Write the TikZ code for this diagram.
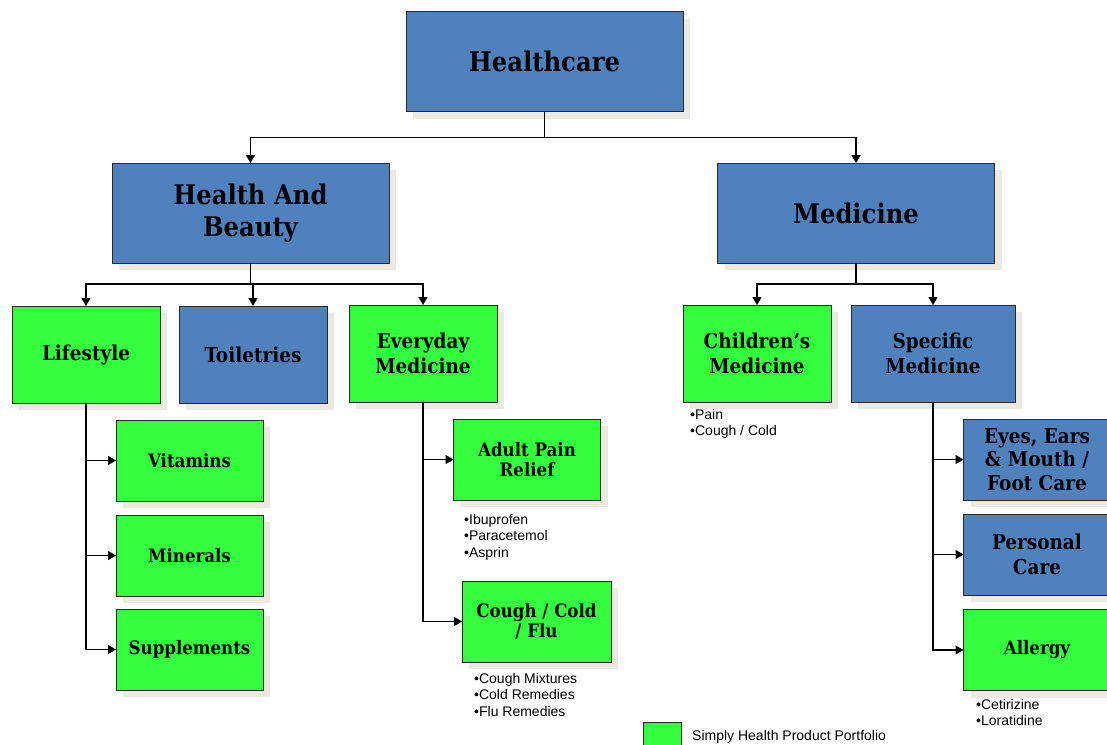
\documentclass[tikz,border=0pt]{standalone}
\usepackage{fontspec}
\usetikzlibrary{arrows.meta,positioning,shadows}
\newfontfamily\boxfont{DejaVu Serif Condensed}
\newfontfamily\notefont{Liberation Sans}
\definecolor{catblue}{HTML}{4F81BD}
\definecolor{catgreen}{HTML}{33FF3F}
\definecolor{shadebeige}{HTML}{ECE9DF}
\definecolor{boxline}{HTML}{2A2A2A}

\begin{document}
\begin{tikzpicture}[x=1pt, y=-1pt, >={Triangle[length=8pt,width=9pt]},
  box/.style={draw=boxline, line width=1pt, inner sep=0pt, outer sep=0pt, align=center,
    font=\boxfont\bfseries, drop shadow={shadow xshift=7pt, shadow yshift=-7pt, fill=shadebeige, opacity=1}},
  bluebox/.style={box, fill=catblue},
  greenbox/.style={box, fill=catgreen},
  big/.style={minimum width=277pt, minimum height=100pt, font=\boxfont\bfseries\fontsize{27}{32}\selectfont},
  mid/.style={minimum width=148pt, minimum height=97pt, font=\boxfont\bfseries\fontsize{20.5}{25}\selectfont},
  small/.style={minimum width=147pt, minimum height=81pt, font=\boxfont\bfseries\fontsize{18.5}{20.5}\selectfont},
  notes/.style={anchor=north west, inner sep=0pt, align=left, font=\notefont\fontsize{14}{16.5}\selectfont},
  link/.style={->, line width=1.3pt}]
  \useasboundingbox (0,0) rectangle (1107,744);

  \node[bluebox, big] (hc) at (544.5,61.5) {Healthcare};
  \node[bluebox, big] (hb) at (250.5,213) {Health And\\Beauty};
  \node[bluebox, big] (med) at (856,213) {Medicine};

  \node[greenbox, mid] (life) at (86,354.5) {Lifestyle};
  \node[bluebox, mid] (toil) at (253,354.5) {Toiletries};
  \node[greenbox, mid] (every) at (423,353.5) {Everyday\\Medicine};
  \node[greenbox, mid] (child) at (757,353.5) {Children’s\\Medicine};
  \node[bluebox, mid, minimum width=164pt] (spec) at (933,353.5) {Specific\\Medicine};

  \node[greenbox, small] (vit) at (189.5,460.5) {Vitamins};
  \node[greenbox, small] (mins) at (189.5,555.5) {Minerals};
  \node[greenbox, small] (supp) at (189.5,649.5) {Supplements};
  \node[greenbox, small] (adult) at (527,459.5) {Adult Pain\\Relief};
  \node[greenbox, small, minimum width=149pt] (cough) at (536.5,621.5) {Cough / Cold\\/ Flu};
  \node[bluebox, small, font=\boxfont\bfseries\fontsize{20.5}{23.5}\selectfont] (eyes) at (1037,459.5) {Eyes, Ears\\\& Mouth /\\Foot Care};
  \node[bluebox, small, font=\boxfont\bfseries\fontsize{20.5}{25}\selectfont] (pers) at (1037,554.5) {Personal\\Care};
  \node[greenbox, small] (allergy) at (1037,650) {Allergy};

  \node[notes] (childnotes) at (690,409) {•Pain\\•Cough / Cold};
  \node[notes] (adultnotes) at (464,514) {•Ibuprofen\\•Paracetemol\\•Asprin};
  \node[notes] (coughnotes) at (474,673) {•Cough Mixtures\\•Cold Remedies\\•Flu Remedies};
  \node[notes] (allergynotes) at (976,699) {•Cetirizine\\•Loratidine};

  \node[draw=boxline, line width=1pt, fill=catgreen, minimum width=38pt, minimum height=34pt,
    inner sep=0pt, anchor=north west] (key) at (643,722) {};
  \node[notes, anchor=west, font=\notefont\fontsize{14}{16}\selectfont] (keytext) at (692,737) {Simply Health Product Portfolio};

  \draw[link] (hc.south) -- ++(0,26) -| (hb.north);
  \draw[link] (hc.south) -- ++(0,26) -| (med.north);
  \draw[link] (hb.south) -- ++(0,21) -| (life.north);
  \draw[link] (hb.south) -- ++(0,21) -| (toil.north);
  \draw[link] (hb.south) -- ++(0,21) -| (every.north);
  \draw[link] (med.south) -- ++(0,21) -| (child.north);
  \draw[link] (med.south) -- ++(0,21) -| (spec.north);
  \draw[link] (life.south) |- (vit.west);
  \draw[link] (life.south) |- (mins.west);
  \draw[link] (life.south) |- (supp.west);
  \draw[link] (every.south) |- (adult.west);
  \draw[link] (every.south) |- (cough.west);
  \draw[link] (spec.south) |- (eyes.west);
  \draw[link] (spec.south) |- (pers.west);
  \draw[link] (spec.south) |- (allergy.west);
\end{tikzpicture}
\end{document}
